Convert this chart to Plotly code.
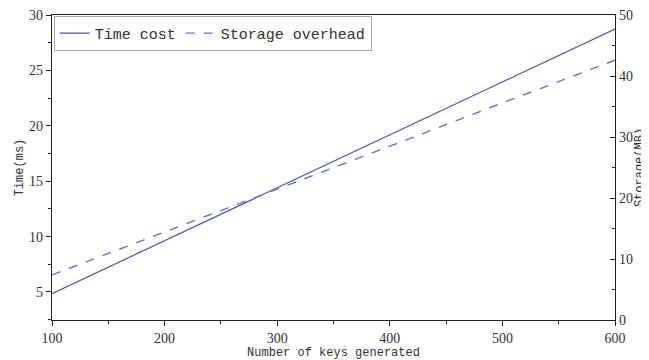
import plotly.graph_objects as go

keys = [100, 200, 300, 400, 500, 600]
time_ms = [4.85, 9.63, 14.4, 19.2, 23.97, 28.74]
storage_mb = [7.4, 14.4, 21.5, 28.5, 35.6, 42.6]

line_col = "#4c52c2"
dash_col = "#6a6fd2"

fig = go.Figure()
fig.add_trace(go.Scatter(x=keys, y=time_ms, mode="lines", name="Time cost",
                         line=dict(color=line_col, width=1.2)))
fig.add_trace(go.Scatter(x=keys, y=storage_mb, mode="lines", name="Storage overhead",
                         line=dict(color=dash_col, width=1.4, dash="dash"), yaxis="y2"))

serif = "Liberation Serif, Times New Roman, serif"
mono = "Liberation Mono, Courier New, monospace"
tickfont = dict(family=serif, size=14, color="#333")
fig.update_layout(
    width=641, height=352,
    margin=dict(l=44, r=34, t=7, b=40),
    paper_bgcolor="white", plot_bgcolor="white",
    showlegend=True,
    legend=dict(orientation="h", x=0.003, y=0.997, xanchor="left", yanchor="top",
                bgcolor="white", bordercolor="#aaa", borderwidth=1,
                font=dict(family=mono, size=15, color="#333"),
                itemwidth=30, tracegroupgap=0),
    xaxis=dict(range=[100, 600], tickmode="linear", tick0=100, dtick=100,
               showline=True, linecolor="#222", linewidth=1.2, mirror=True,
               ticks="outside", ticklen=5, tickcolor="#222", automargin=False,
               minor=dict(ticks="outside", dtick=50, ticklen=3, tickcolor="#222"),
               showgrid=False, zeroline=False, tickfont=tickfont,
               title=dict(text="Number of keys generated", standoff=0,
                          font=dict(family=mono, size=12, color="#333"))),
    yaxis=dict(range=[2.47, 30.01], tickmode="linear", tick0=5, dtick=5,
               showline=True, linecolor="#222", linewidth=1.2,
               ticks="outside", ticklen=5, tickcolor="#222", automargin=False,
               minor=dict(ticks="outside", dtick=2.5, ticklen=3, tickcolor="#222"),
               showgrid=False, zeroline=False, tickfont=tickfont,
               title=dict(text="Time(ms)", standoff=2,
                          font=dict(family=mono, size=12, color="#333"))),
    yaxis2=dict(range=[0, 50.02], tickmode="linear", tick0=0, dtick=10,
                overlaying="y", side="right",
                showline=True, linecolor="#222", linewidth=1.2,
                ticks="inside", ticklen=5, tickcolor="#222", automargin=False,
                minor=dict(ticks="inside", dtick=5, ticklen=3, tickcolor="#222"),
                showgrid=False, zeroline=False, tickfont=tickfont,
                title=dict(text="Storage(MB)", standoff=0,
                           font=dict(family=mono, size=12, color="#333"))),
)
fig.write_html("out.html")
